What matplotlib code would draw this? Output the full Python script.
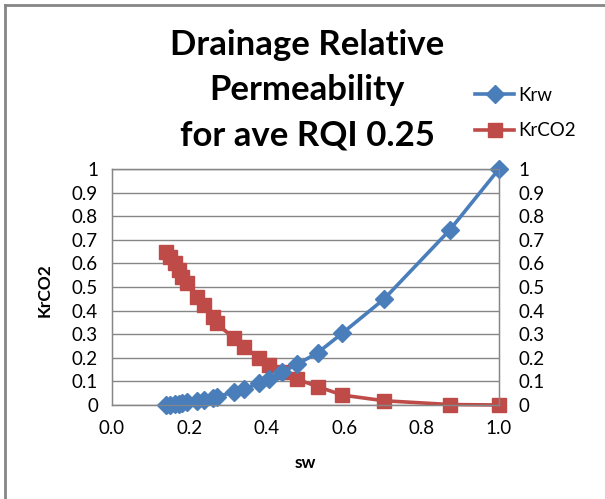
import matplotlib
matplotlib.use("Agg")
import matplotlib.pyplot as plt
from matplotlib.lines import Line2D

plt.rcParams['font.family'] = ['Lato', 'DejaVu Sans']

# data
sw = [0.139, 0.150, 0.163, 0.172, 0.180, 0.193, 0.219, 0.237, 0.262, 0.271,
      0.314, 0.342, 0.379, 0.405, 0.440, 0.478, 0.532, 0.595, 0.703, 0.873, 1.0]
krw = [0.0, 0.002, 0.004, 0.006, 0.008, 0.011, 0.018, 0.023, 0.030, 0.035,
       0.055, 0.068, 0.092, 0.110, 0.140, 0.172, 0.222, 0.304, 0.449, 0.742, 1.0]
krco2 = [0.650, 0.628, 0.600, 0.572, 0.544, 0.516, 0.459, 0.424, 0.374, 0.346,
         0.283, 0.247, 0.198, 0.169, 0.141, 0.109, 0.078, 0.042, 0.018, 0.002, 0.0]

yticks = [0, 0.1, 0.2, 0.3, 0.4, 0.5, 0.6, 0.7, 0.8, 0.9, 1]
ylabels = ['0', '0.1', '0.2', '0.3', '0.4', '0.5', '0.6', '0.7', '0.8', '0.9', '1']
xticks = [0.0, 0.2, 0.4, 0.6, 0.8, 1.0]

blue = '#4A7EBB'
red = '#BE4B48'
grey = '#868686'

fig = plt.figure(figsize=(6.05, 4.99), dpi=100)
ax = fig.add_axes([112/605, 1 - 405/499, (499-112)/605, (405-169)/499])

ax.plot(sw, krw, color=blue, lw=2.6, marker='D', ms=9, label='Krw', zorder=3,
        clip_on=False)
ax.plot(sw, krco2, color=red, lw=2.6, marker='s', ms=10.5, label='KrCO2', zorder=2,
        clip_on=False)

ax.set_xlim(0, 1)
ax.set_ylim(0, 1)
ax.set_xticks(xticks)
ax.set_xticklabels(['%.1f' % t for t in xticks])
ax.set_yticks(yticks)
ax.set_yticklabels(ylabels)
ax.yaxis.grid(True, color=grey, lw=1)
ax.set_axisbelow(True)
for s in ax.spines.values():
    s.set_color(grey)
    s.set_linewidth(1)
ax.tick_params(axis='x', length=0, pad=11, labelsize=13.5, colors='black')
ax.tick_params(axis='y', length=0, pad=10, labelsize=13.5, colors='black')

ax2 = ax.twinx()
ax2.set_ylim(0, 1)
ax2.set_yticks(yticks)
ax2.set_yticklabels(ylabels)
ax2.tick_params(axis='y', length=0, pad=14, labelsize=13.5)
for s in ax2.spines.values():
    s.set_color(grey)

ax.set_xlabel('sw', fontsize=12.5, fontweight='bold', labelpad=13)
fig.text(45/605, 1 - 290/499, 'KrCO2', rotation=90, fontsize=12.5,
         fontweight='bold', ha='center', va='center')

fig.text(307/605, 1 - 90/499, 'Drainage Relative\nPermeability\nfor ave RQI 0.25',
         fontsize=25, fontweight='bold', ha='center', va='center',
         linespacing=1.5)

handles = [Line2D([], [], color=blue, lw=2.6, marker='D', ms=9),
           Line2D([], [], color=red, lw=2.6, marker='s', ms=10.5)]
fig.legend(handles, ['Krw', 'KrCO2'], loc='center left',
           bbox_to_anchor=(458/605, 1 - 113/499), frameon=False,
           fontsize=13.5, handlelength=2.1, handletextpad=0.2, labelspacing=1.0)

# chart area border (top and left visible in the crop)
fig.add_artist(Line2D([5/605, 1], [1 - 5/499, 1 - 5/499], color=grey, lw=2,
                      transform=fig.transFigure))
fig.add_artist(Line2D([5/605, 5/605], [0, 1 - 5/499], color=grey, lw=2,
                      transform=fig.transFigure))

fig.savefig('out.png', dpi=100)
